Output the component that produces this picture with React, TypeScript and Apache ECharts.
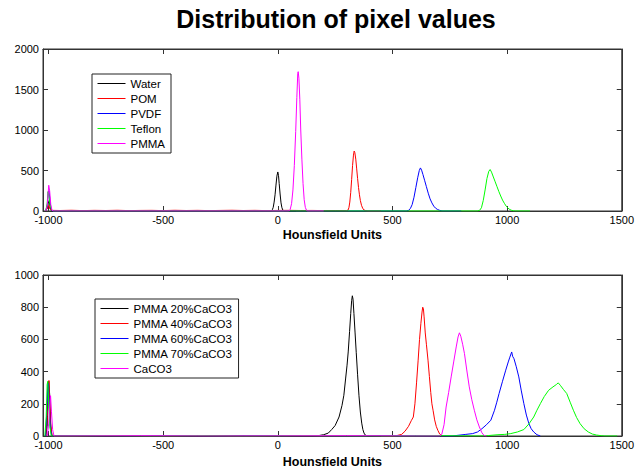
import React, { useEffect, useRef } from "react";
import * as echarts from "echarts";

const titleText = "Distribution of pixel values";
const xLabel = "Hounsfield Units";
const xTicks = [-1000, -500, 0, 500, 1000, 1500];
const xMin = -1024;
const xMax = 1500;

const topNames = ["Water", "POM", "PVDF", "Teflon", "PMMA"];
const bottomNames = ["PMMA 20%CaCO3", "PMMA 40%CaCO3", "PMMA 60%CaCO3", "PMMA 70%CaCO3", "CaCO3"];
const lineColors = ["#000000", "#ff0000", "#0000ff", "#00ff00", "#ff00ff"];

// ---- top panel ----
const water = [
  [-1014, 0], [-1006, 30], [-1001, 90], [-997, 130], [-993, 50], [-987, 0],
  [-28, 0], [-24, 15], [-20, 45], [-16, 110], [-12, 200], [-8, 320], [-4, 430], [0, 482],
  [3, 440], [6, 340], [10, 210], [14, 100], [18, 40], [22, 12], [27, 0], [80, 0],
];
const pom = [
  [-1012, 0], [-1004, 40], [-999, 70], [-994, 25], [-988, 8], [-950, 6], [-900, 9], [-850, 5],
  [-800, 8], [-750, 6], [-700, 9], [-650, 5], [-600, 7], [-550, 8], [-500, 5], [-450, 9],
  [-400, 6], [-350, 8], [-300, 5], [-250, 7], [-200, 9], [-150, 6], [-100, 8], [-50, 5],
  [0, 7], [50, 8], [100, 6], [150, 7], [200, 5], [250, 6], [300, 4],
  [306, 10], [310, 40], [314, 110], [318, 230], [322, 390], [326, 560], [330, 690], [333, 740],
  [336, 720], [340, 640], [344, 520], [348, 400], [352, 290], [356, 200], [360, 130], [365, 70],
  [370, 35], [376, 12], [384, 3], [392, 0], [450, 0],
];
const pvdf = [
  [-1012, 0], [-1005, 80], [-1001, 230], [-998, 250], [-994, 150], [-990, 40], [-984, 0],
  [560, 0], [570, 8], [578, 30], [586, 80], [594, 170], [602, 290], [610, 410], [617, 500],
  [622, 532], [627, 505], [633, 450], [640, 380], [648, 300], [656, 220], [664, 150], [672, 100],
  [680, 60], [688, 35], [696, 20], [704, 10], [712, 3], [720, 0], [800, 0],
];
const teflon = [
  [-1012, 0], [-1006, 90], [-1002, 240], [-998, 200], [-994, 90], [-988, 20], [-982, 0],
  [870, 0], [880, 8], [888, 40], [896, 130], [904, 260], [912, 400], [920, 490], [926, 512],
  [932, 480], [940, 420], [948, 360], [956, 300], [964, 240], [972, 185], [980, 135], [988, 95],
  [996, 60], [1004, 35], [1012, 18], [1020, 8], [1028, 2], [1035, 0], [1100, 0],
];
const pmma = [
  [-1012, 0], [-1006, 60], [-1002, 200], [-999, 318], [-995, 250], [-990, 80], [-985, 10], [-978, 0],
  [48, 0], [54, 20], [60, 90], [66, 260], [72, 560], [78, 980], [83, 1400], [87, 1700], [89, 1720],
  [92, 1640], [96, 1380], [100, 1000], [105, 640], [110, 340], [115, 140], [120, 45], [125, 10],
  [130, 0], [200, 0],
];

// ---- bottom panel ----
const pmma20 = [
  [-1012, 0], [-1006, 60], [-1002, 220], [-999, 340], [-995, 260], [-991, 80], [-986, 10], [-980, 0],
  [-900, 2], [-700, 0], [-500, 2], [-300, 0], [-100, 2], [150, 0], [180, 3], [200, 8], [220, 18],
  [235, 40], [250, 65], [267, 118], [280, 190], [288, 253], [296, 360], [302, 440], [307, 522],
  [313, 650], [318, 760], [322, 840], [325, 871], [328, 850], [332, 760], [337, 640], [342, 520],
  [348, 380], [354, 250], [360, 149], [366, 80], [371, 40], [376, 18], [382, 5], [390, 0], [450, 0],
];
const pmma40 = [
  [-1012, 0], [-1005, 120], [-1001, 300], [-998, 345], [-994, 200], [-990, 60], [-984, 0],
  [-800, 2], [-600, 0], [-400, 2], [-200, 0], [0, 2], [200, 0], [400, 2],
  [500, 0], [520, 3], [540, 10], [555, 30], [570, 60], [582, 95], [591, 118], [598, 200],
  [605, 330], [612, 471], [618, 600], [624, 700], [629, 770], [632, 800], [635, 790], [638, 740],
  [643, 640], [648, 570], [655, 471], [661, 370], [667, 270], [672, 200], [677, 160], [684, 100],
  [691, 60], [698, 35], [706, 12], [714, 2], [720, 0],
];
const pmma60 = [
  [-1013, 0], [-1007, 150], [-1003, 330], [-1000, 320], [-996, 180], [-992, 50], [-986, 0],
  [-850, 2], [-650, 0], [-450, 2], [-250, 0], [-50, 2], [250, 0], [550, 2],
  [760, 0], [790, 5], [820, 10], [850, 15], [871, 25], [890, 45], [910, 70], [929, 98],
  [945, 160], [955, 210], [965, 264], [980, 340], [994, 409], [1005, 460], [1012, 490], [1017, 510],
  [1020, 522], [1024, 495], [1030, 480], [1040, 430], [1051, 367], [1062, 280], [1073, 201],
  [1084, 130], [1095, 77], [1105, 45], [1116, 25], [1130, 8], [1145, 0],
];
const pmma70 = [
  [-1016, 0], [-1010, 120], [-1006, 320], [-1003, 340], [-999, 200], [-994, 60], [-988, 0],
  [-750, 2], [-550, 0], [-350, 2], [-150, 0], [100, 2], [450, 0], [700, 2],
  [880, 0], [920, 3], [960, 8], [990, 10], [1016, 15], [1045, 25], [1073, 40], [1095, 75],
  [1116, 118], [1130, 160], [1145, 201], [1162, 245], [1181, 284], [1200, 305], [1215, 320],
  [1223, 330], [1232, 315], [1245, 290], [1260, 264], [1275, 210], [1289, 160], [1303, 115],
  [1318, 77], [1336, 45], [1354, 25], [1372, 12], [1390, 6], [1410, 2], [1426, 0], [1480, 0],
];
const caco3 = [
  [-1005, 0], [-999, 80], [-994, 200], [-991, 250], [-987, 150], [-982, 40], [-976, 0],
  [-600, 2], [-300, 0], [300, 2], [600, 0],
  [705, 0], [715, 10], [725, 70], [734, 180], [745, 270], [756, 367], [767, 460], [778, 553],
  [786, 615], [792, 641], [798, 620], [806, 570], [814, 512], [824, 410], [835, 305], [846, 225],
  [857, 160], [868, 100], [879, 56], [890, 20], [900, 3], [910, 0],
];

const topData = [water, pom, pvdf, teflon, pmma];
const bottomData = [pmma20, pmma40, pmma60, pmma70, caco3];

const FONT = "'Liberation Sans', Arial, sans-serif";
const AXIS_COLOR = "#333";
const plain = (v: number) => String(v);

function xAxes(gridIndex: number) {
  const base = {
    type: "value" as const,
    gridIndex,
    min: xMin,
    max: xMax,
    splitLine: { show: false },
    axisLine: { show: true, onZero: false, lineStyle: { color: AXIS_COLOR, width: 1 } },
  };
  return [
    {
      ...base,
      position: "bottom",
      axisTick: { show: true, inside: true, length: 5, customValues: xTicks, lineStyle: { color: AXIS_COLOR } },
      axisLabel: {
        show: true, customValues: xTicks, formatter: plain, margin: 4, lineHeight: 10,
        color: "#000", fontSize: 11, fontFamily: FONT,
      },
      name: xLabel,
      nameLocation: "middle",
      nameGap: gridIndex === 0 ? 17 : 19,
      nameTextStyle: { color: "#000", fontSize: 12.5, fontWeight: "bold", fontFamily: FONT },
    },
    {
      ...base,
      position: "top",
      axisTick: { show: true, inside: true, length: 5, customValues: xTicks, lineStyle: { color: AXIS_COLOR } },
      axisLabel: { show: false, customValues: xTicks },
    },
  ];
}

function yAxes(gridIndex: number, max: number, interval: number) {
  const base = {
    type: "value" as const,
    gridIndex,
    min: 0,
    max,
    interval,
    splitLine: { show: false },
    axisLine: { show: true, onZero: false, lineStyle: { color: AXIS_COLOR, width: 1 } },
    axisTick: { show: true, inside: true, length: 5, lineStyle: { color: AXIS_COLOR } },
  };
  return [
    {
      ...base,
      position: "left",
      axisLabel: { show: true, formatter: plain, margin: 4, lineHeight: 9, color: "#000", fontSize: 11, fontFamily: FONT },
    },
    { ...base, position: "right", axisLabel: { show: false } },
  ];
}

export default function App() {
  const ref = useRef<HTMLDivElement>(null);

  useEffect(() => {
    document.body.style.margin = "0";
    if (!ref.current) return;
    const chart = echarts.init(ref.current, undefined, { renderer: "svg" });

    const series: any[] = [];
    topNames.forEach((name, i) => {
      series.push({
        name,
        type: "line",
        xAxisIndex: 0,
        yAxisIndex: 0,
        data: topData[i],
        symbol: "none",
        lineStyle: { color: lineColors[i], width: 1 },
        itemStyle: { color: lineColors[i] },
      });
    });
    bottomNames.forEach((name, i) => {
      series.push({
        name,
        type: "line",
        xAxisIndex: 2,
        yAxisIndex: 2,
        data: bottomData[i],
        symbol: "none",
        lineStyle: { color: lineColors[i], width: 1 },
        itemStyle: { color: lineColors[i] },
      });
    });

    const legendBase = {
      orient: "vertical",
      itemWidth: 28,
      itemHeight: 13,
      itemGap: 2,
      padding: [3, 6, 3, 5],
      borderColor: "#222",
      borderWidth: 1,
      backgroundColor: "#fff",
      borderRadius: 0,
      selectedMode: false,
      itemStyle: { opacity: 0 },
      lineStyle: { width: 1 },
      textStyle: { color: "#000", fontSize: 11.5, lineHeight: 13, fontFamily: FONT },
    };

    chart.setOption({
      animation: false,
      backgroundColor: "#fff",
      graphic: [
        {
          type: "text",
          x: 336,
          y: 19,
          style: {
            text: titleText,
            fill: "#000",
            font: `bold 25px ${FONT}`,
            align: "center",
            verticalAlign: "middle",
          },
        },
      ],
      grid: [
        { left: 43, top: 49, width: 583, height: 162, show: true, borderColor: AXIS_COLOR, borderWidth: 1, backgroundColor: "transparent" },
        { left: 43, top: 275, width: 582, height: 161, show: true, borderColor: AXIS_COLOR, borderWidth: 1, backgroundColor: "transparent" },
      ],
      xAxis: [...xAxes(0), ...xAxes(1)],
      yAxis: [...yAxes(0, 2000, 500), ...yAxes(1, 1000, 200)],
      legend: [
        { ...legendBase, left: 92, top: 74, data: topNames },
        { ...legendBase, left: 95, top: 299, data: bottomNames },
      ],
      series,
    });

    return () => chart.dispose();
  }, []);

  return <div ref={ref} style={{ width: 637, height: 474 }} />;
}
